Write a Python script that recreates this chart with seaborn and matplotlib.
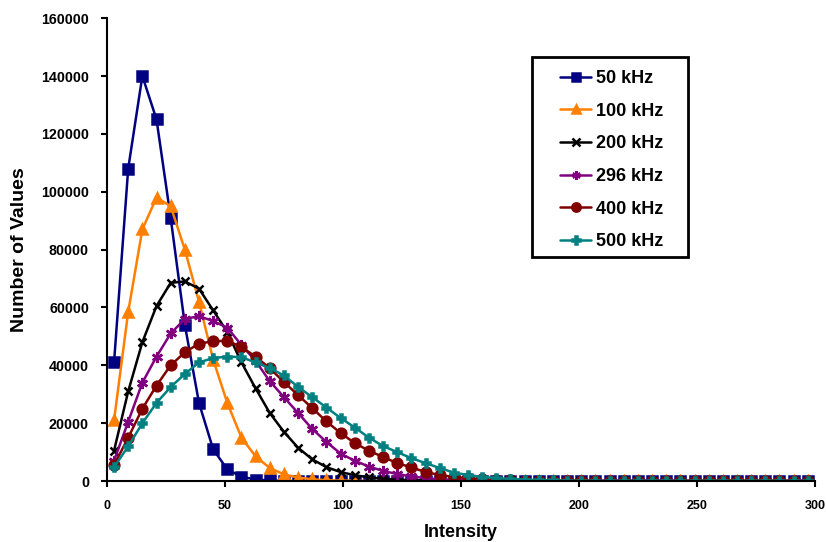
import numpy as np
import pandas as pd
import seaborn as sns
from matplotlib import pyplot as plt
from matplotlib.patches import Rectangle

# bin centres of the histogram
intensity = list(range(3, 300, 6))

khz50 = [41000, 108000, 140000, 125000, 91000, 54000, 27000, 11000, 4000, 1500,
         500, 200] + [0] * 38
khz100 = [21000, 58500, 87000, 98000, 95000, 80000, 62000, 42000, 27000, 15000,
          8500, 4500, 2300, 1200, 600, 300, 150, 100] + [0] * 32
khz200 = [10500, 31000, 48000, 60500, 68500, 69000, 66500, 59000, 51500, 41000,
          32000, 23500, 17000, 11500, 7500, 4800, 3100, 2000, 1300, 800,
          500, 300, 200, 100] + [0] * 26
khz296 = [7000, 20500, 34000, 43000, 51000, 56000, 57000, 55300, 53000, 47000,
          41500, 34500, 29000, 23500, 18000, 13500, 9500, 7000, 5000, 3500,
          2400, 1600, 1000, 600, 400, 200, 100] + [0] * 23
khz400 = [5500, 15000, 25000, 33000, 40000, 44500, 47500, 48300, 48500, 46300,
          43000, 39000, 34200, 29700, 25200, 20600, 16600, 13100, 10500, 8300,
          6200, 4700, 3100, 2100, 1400, 1000, 600, 300, 200, 100] + [0] * 20
khz500 = [4800, 12000, 20000, 27000, 32500, 37000, 41000, 42500, 43000, 42800,
          41000, 39000, 36500, 32500, 29000, 25400, 21800, 18500, 15000, 12100,
          10000, 7900, 6200, 4500, 2900, 2100, 1400, 1000, 700, 500,
          300, 200, 100] + [0] * 17

labels = ["50 kHz", "100 kHz", "200 kHz", "296 kHz", "400 kHz", "500 kHz"]
series = [khz50, khz100, khz200, khz296, khz400, khz500]
colors = ["#000080", "#FF7F00", "#000000", "#800080", "#800000", "#008080"]
markers = ["s", "^", "x", (6, 2, 0), "o", "P"]
msizes = [7, 7, 6, 8, 7, 6]

sns.set_style("white")
plt.rcParams['font.family'] = ['Liberation Sans', 'DejaVu Sans']
plt.rcParams['text.color'] = 'black'
plt.rcParams['axes.labelcolor'] = 'black'
plt.rcParams['xtick.color'] = 'black'
plt.rcParams['ytick.color'] = 'black'

fig = plt.figure(figsize=(8.26, 5.42), dpi=100)
ax = fig.add_axes([0.1295, 0.1125, 0.857, 0.854])

for lab, vals, col, mk, ms in zip(labels, series, colors, markers, msizes):
    df = pd.DataFrame({"Intensity": intensity, "Count": vals})
    sns.lineplot(data=df, x="Intensity", y="Count", ax=ax, color=col, marker=mk,
                 markersize=ms, markeredgecolor=col, markeredgewidth=1.8,
                 linewidth=1.8, label=lab)

ax.set_xlim(0, 300)
ax.set_ylim(0, 160000)
ax.set_xticks(np.arange(0, 301, 50))
ax.set_yticks(np.arange(0, 160001, 20000))
ax.set_yticklabels([str(v) for v in range(0, 160001, 20000)])
for lbl in ax.get_xticklabels():
    lbl.set_fontweight('bold')
    lbl.set_fontsize(9)
for lbl in ax.get_yticklabels():
    lbl.set_fontweight('bold')
    lbl.set_fontsize(10.3)
ax.tick_params(axis='both', direction='out', length=4, width=1.5, color='black',
               labelcolor='black', bottom=True, left=True)
ax.tick_params(axis='x', pad=10)
ax.tick_params(axis='y', pad=9)
for side in ['top', 'right']:
    ax.spines[side].set_visible(False)
for side in ['left', 'bottom']:
    ax.spines[side].set_color('black')
    ax.spines[side].set_linewidth(1.5)

ax.set_xlabel('Intensity', fontsize=13, fontweight='bold', color='black')
ax.set_ylabel('Number of Values', fontsize=14, fontweight='bold', color='black')
ax.xaxis.set_label_coords(0.5, -0.092)
ax.yaxis.set_label_coords(-0.112, 0.5)

leg = ax.legend(loc='upper left', bbox_to_anchor=(0.678, 0.871),
                bbox_transform=fig.transFigure, frameon=False,
                labelspacing=0.87, handlelength=1.72, borderpad=0,
                handletextpad=0.25, borderaxespad=0,
                prop={'weight': 'bold', 'size': 13})
for h in leg.legend_handles:
    h.set_markersize(6)
for t in leg.get_texts():
    t.set_color('black')
fig.add_artist(Rectangle((0.6437, 0.5264), 0.1896, 0.369, transform=fig.transFigure,
                         fill=False, edgecolor='black', linewidth=2, zorder=5))

fig.savefig('out.png', dpi=100)
